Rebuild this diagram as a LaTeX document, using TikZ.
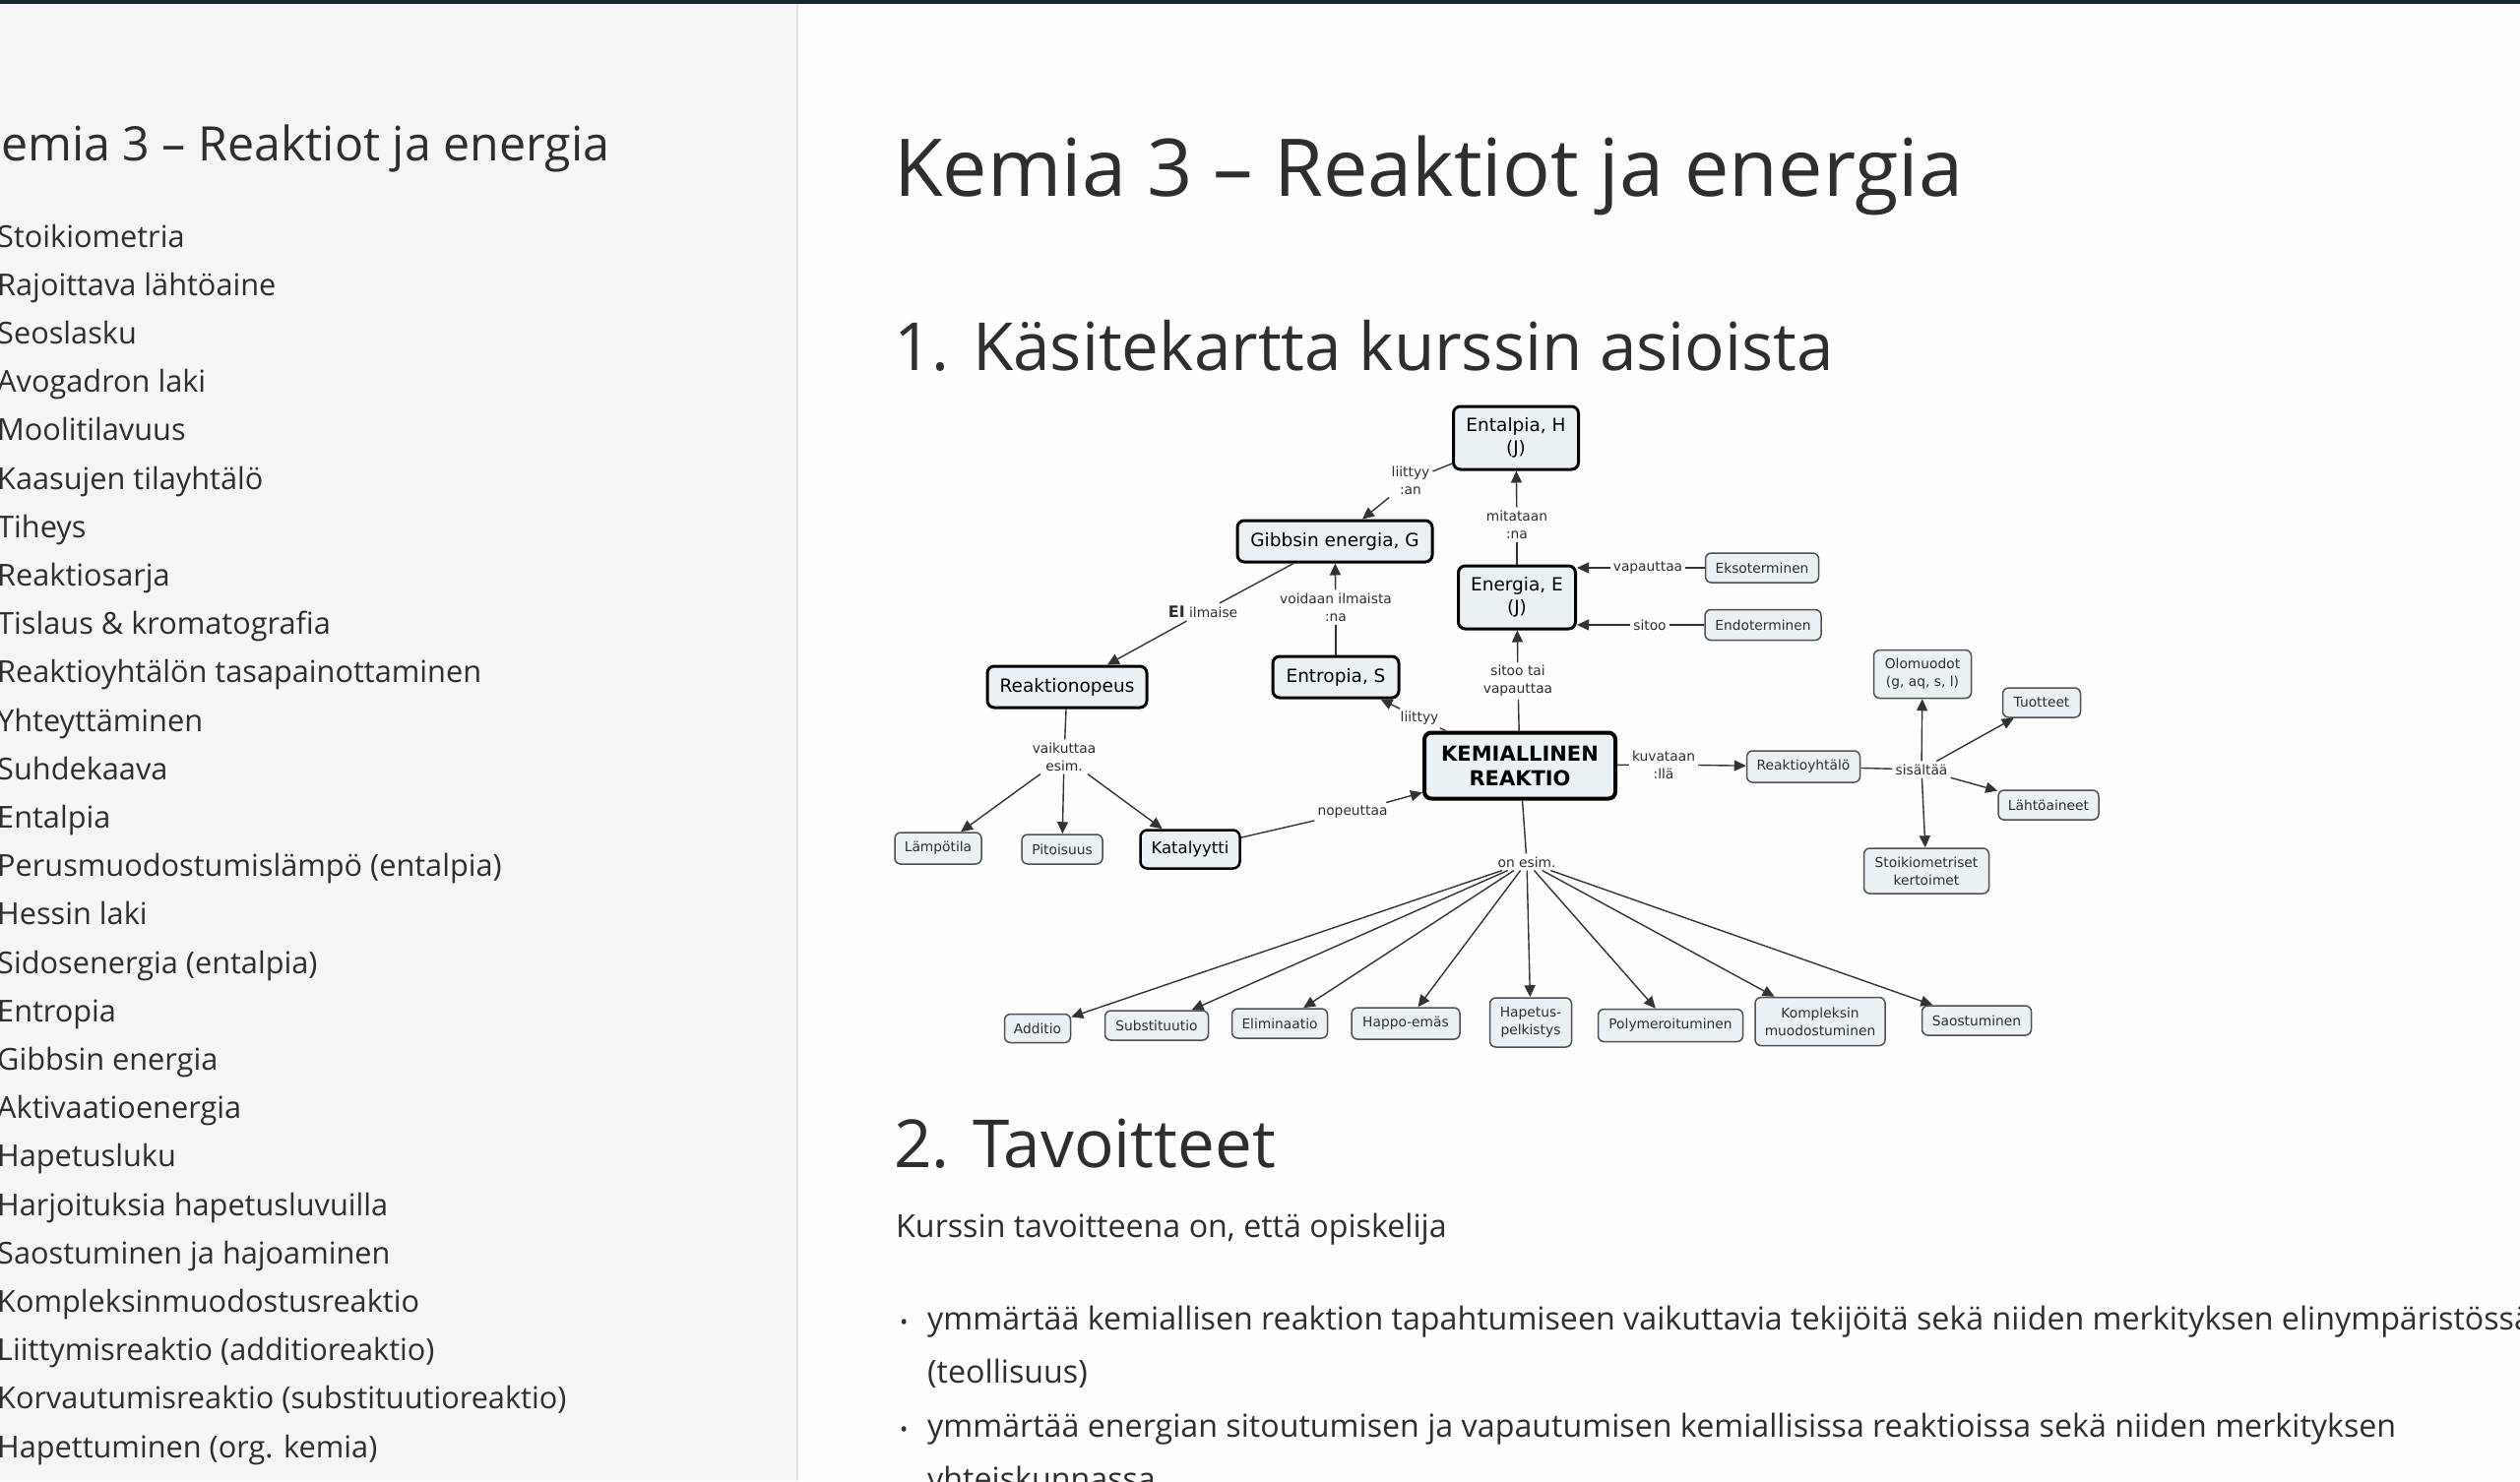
\documentclass[tikz,border=0pt]{standalone}
\usepackage{fontspec}
\setmainfont{Open Sans}
\newfontfamily\mapfont{DejaVu Sans}
\usetikzlibrary{arrows.meta}
\definecolor{topbar}{HTML}{16292C}
\definecolor{sidebg}{HTML}{F5F5F5}
\definecolor{sideline}{HTML}{E3E3E3}
\definecolor{pagebg}{HTML}{FDFDFD}
\definecolor{ink}{HTML}{2E2E2E}
\definecolor{nodefill}{HTML}{E9F1F4}
\definecolor{smallborder}{HTML}{505050}
\definecolor{mapink}{HTML}{2E2E2E}
\definecolor{linegray}{HTML}{333333}
\begin{document}
\begin{tikzpicture}[x=1pt,y=-1pt,
  cbig/.style={draw=black, line width=3pt, rounded corners=7pt, fill=nodefill,
    font=\mapfont\fontsize{18.5}{23}\selectfont, align=center, inner sep=0pt, text=black},
  ckem/.style={cbig, line width=4pt, font=\mapfont\bfseries\fontsize{21}{25}\selectfont},
  ckat/.style={cbig, line width=2.5pt, font=\mapfont\fontsize{16.5}{20}\selectfont},
  csmall/.style={draw=smallborder, line width=1.5pt, rounded corners=6pt, fill=nodefill,
    font=\mapfont\fontsize{13.8}{18}\selectfont, align=center, inner sep=0pt, text=mapink},
  clab/.style={font=\mapfont\fontsize{13.8}{18}\selectfont, align=center, inner sep=3pt, text=mapink},
  cline/.style={draw=linegray, line width=1.4pt},
  carr/.style={cline, -{Triangle[length=12pt,width=11pt]}},
  sideitem/.style={anchor=base west, inner sep=0pt, font=\fontsize{30.7}{36}\selectfont, text=ink},
  ptext/.style={anchor=base west, inner sep=0pt, font=\fontsize{32.2}{40}\selectfont, text=ink},
  htwo/.style={anchor=base west, inner sep=0pt, font=\fontsize{67.4}{80}\selectfont, text=ink}
]
\useasboundingbox (0,0) rectangle (2560,1505);
\clip (0,0) rectangle (2560,1505);
% page background
\fill[pagebg] (0,0) rectangle (2560,1505);
\fill[sidebg] (0,0) rectangle (810,1505);
\draw[sideline, line width=2pt] (810,0) -- (810,1505);
\fill[topbar] (0,0) rectangle (2560,4);

% sidebar
\node[anchor=base west, inner sep=0pt, font=\fontsize{48.3}{58}\selectfont, text=ink] (sidetitle) at (1,163) {emia 3 – Reaktiot ja energia};
\foreach \t [count=\i] in {
  {Stoikiometria},{Rajoittava lähtöaine},{Seoslasku},{Avogadron laki},{Moolitilavuus},
  {Kaasujen tilayhtälö},{Tiheys},{Reaktiosarja},{Tislaus \& kromatografia},
  {Reaktioyhtälön tasapainottaminen},{Yhteyttäminen},{Suhdekaava},{Entalpia},
  {Perusmuodostumislämpö (entalpia)},{Hessin laki},{Sidosenergia (entalpia)},{Entropia},
  {Gibbsin energia},{Aktivaatioenergia},{Hapetusluku},{Harjoituksia hapetusluvuilla},
  {Saostuminen ja hajoaminen},{Kompleksinmuodostusreaktio},{Liittymisreaktio (additioreaktio)},
  {Korvautumisreaktio (substituutioreaktio)},{Hapettuminen (org. kemia)}}
  \node[sideitem] (side\i) at (-3,{251+49.2*(\i-1)}) {\t};

% main text
\node[anchor=base west, inner sep=0pt, font=\fontsize{81}{98}\selectfont, text=ink] (title) at (908,199) {Kemia 3 – Reaktiot ja energia};
\node[htwo] (h1) at (908,376) {1. Käsitekartta kurssin asioista};
\node[htwo] (h2) at (908,1186) {2. Tavoitteet};
\node[ptext] (intro) at (910,1257) {Kurssin tavoitteena on, että opiskelija};
\node[anchor=base west, inner sep=0pt, font=\fontsize{22}{24}\selectfont, text=ink] (b1) at (914,1351) {•};
\node[ptext] (t1) at (942,1351) {ymmärtää kemiallisen reaktion tapahtumiseen vaikuttavia tekijöitä sekä niiden merkityksen elinympäristössä};
\node[ptext] (t1b) at (942,1405) {(teollisuus)};
\node[anchor=base west, inner sep=0pt, font=\fontsize{22}{24}\selectfont, text=ink] (b2) at (914,1460) {•};
\node[ptext] (t2) at (942,1460) {ymmärtää energian sitoutumisen ja vapautumisen kemiallisissa reaktioissa sekä niiden merkityksen};
\node[ptext] (t2b) at (942,1514) {yhteiskunnassa};

% concept map nodes
\node[cbig, minimum width=127, minimum height=64] (ent) at (1540,445) {Entalpia, H\\(J)};
\node[cbig, minimum width=198, minimum height=42] (gib) at (1356,550) {Gibbsin energia, G};
\node[cbig, minimum width=119, minimum height=64] (ene) at (1541,607) {Energia, E\\(J)};
\node[cbig, minimum width=162, minimum height=42] (rn) at (1084,698) {Reaktionopeus};
\node[cbig, minimum width=128, minimum height=42] (ento) at (1357,688) {Entropia, S};
\node[ckem, minimum width=194, minimum height=67] (kem) at (1544,778) {KEMIALLINEN\\REAKTIO};
\node[csmall, minimum width=88, minimum height=32] (lam) at (953,862) {Lämpötila};
\node[csmall, minimum width=82, minimum height=30] (pit) at (1079,863) {Pitoisuus};
\node[ckat, minimum width=101, minimum height=39] (kat) at (1209,863) {Katalyytti};
\node[csmall, minimum width=67, minimum height=29] (add) at (1054,1045) {Additio};
\node[csmall, minimum width=105, minimum height=30] (sub) at (1175,1042) {Substituutio};
\node[csmall, minimum width=97, minimum height=30] (eli) at (1300,1040) {Eliminaatio};
\node[csmall, minimum width=110, minimum height=32] (hap) at (1428,1040) {Happo-emäs};
\node[csmall, minimum width=83, minimum height=50] (hpk) at (1555,1039) {Hapetus-\\pelkistys};
\node[csmall, minimum width=147, minimum height=33] (pol) at (1697,1042) {Polymeroituminen};
\node[csmall, minimum width=132, minimum height=49] (kom) at (1849,1038) {Kompleksin\\muodostuminen};
\node[csmall, minimum width=111, minimum height=30] (sao) at (2008,1037) {Saostuminen};
\node[csmall, minimum width=115, minimum height=30] (eks) at (1790,577) {Eksoterminen};
\node[csmall, minimum width=118, minimum height=31] (endo) at (1791,635) {Endoterminen};
\node[csmall, minimum width=99, minimum height=49] (olo) at (1953,685) {Olomuodot\\(g, aq, s, l)};
\node[csmall, minimum width=79, minimum height=30] (tuo) at (2074,714) {Tuotteet};
\node[csmall, minimum width=102, minimum height=30] (lah) at (2081,818) {Lähtöaineet};
\node[csmall, minimum width=115, minimum height=32] (ry) at (1832,779) {Reaktioyhtälö};
\node[csmall, minimum width=127, minimum height=46] (sto) at (1957,885) {Stoikiometriset\\kertoimet};

% link labels
\node[clab] (l1) at (1433,488) {liittyy\\:an};
\node[clab] (l2) at (1541,533) {mitataan\\:na};
\node[clab] (l3) at (1357,617) {voidaan ilmaista\\:na};
\node[clab] (l4) at (1222,622) {{\bfseries\fontsize{16}{18}\selectfont EI} ilmaise};
\node[clab] (l5) at (1442,730) {liittyy};
\node[clab] (l6) at (1542,692) {sitoo tai\\vapauttaa};
\node[clab] (l7) at (1674,577) {vapauttaa};
\node[clab] (l8) at (1676,635) {sitoo};
\node[clab] (l9) at (1081,769) {vaikuttaa\\esim.};
\node[clab] (l10) at (1374,825) {nopeuttaa};
\node[clab] (l11) at (1690,777) {kuvataan\\:llä};
\node[clab] (l12) at (1952,782) {sisältää};
\node[clab] (l13) at (1551,876) {on esim.};

% connectors
\draw[cline] (ent) -- (l1);  \draw[carr] (l1) -- (gib);
\draw[cline] (ene) -- (l2);  \draw[carr] (l2) -- (ent);
\draw[cline] (ento) -- (l3); \draw[carr] (l3) -- (gib);
\draw[cline] (gib) -- (l4);  \draw[carr] (l4) -- (rn);
\draw[cline] (kem) -- (l5);  \draw[carr] (l5) -- (ento);
\draw[cline] (kem) -- (l6);  \draw[carr] (l6) -- (ene);
\draw[cline] (eks) -- (l7);  \draw[carr] (l7) -- (l7 -| ene.east);
\draw[cline] (endo) -- (l8); \draw[carr] (l8) -- (l8 -| ene.east);
\draw[cline] (rn) -- (l9);
\foreach \n in {lam,pit,kat} \draw[carr] (l9) -- (\n);
\draw[cline] (kat) -- (l10); \draw[carr] (l10) -- (kem);
\draw[cline] (kem) -- (l11); \draw[carr] (l11) -- (ry);
\draw[cline] (ry) -- (l12);
\foreach \n in {olo,tuo,lah,sto} \draw[carr] (l12) -- (\n);
\draw[cline] (kem) -- (l13);
\foreach \n in {add,sub,eli,hap,hpk,pol,kom,sao} \draw[carr] (l13) -- (\n);
\end{tikzpicture}
\end{document}
